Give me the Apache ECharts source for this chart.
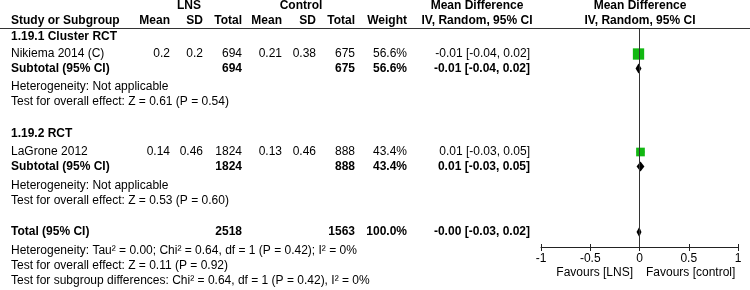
<!DOCTYPE html>
<html><head><meta charset="utf-8">
<script src="https://cdn.jsdelivr.net/npm/echarts@6/dist/echarts.min.js"></script>
<style>html,body{margin:0;padding:0;background:#fff}#c{width:750px;height:290px}</style>
</head><body><div id="c"></div>
<script>
// ---- data ----
const studies = ['Nikiema 2014 (C)', 'LaGrone 2012'];
const subgroups = ['1.19.1 Cluster RCT', '1.19.2 RCT'];
const lnsMean = [0.2, 0.14];
const lnsSD = [0.2, 0.46];
const lnsTotal = [694, 1824];
const ctlMean = [0.21, 0.13];
const ctlSD = [0.38, 0.46];
const ctlTotal = [675, 888];
const studyWeight = [56.6, 43.4];
const studyMD = [-0.01, 0.01];
const studyLo = [-0.04, -0.03];
const studyHi = [0.02, 0.05];
const subMD = [-0.01, 0.01];
const subLo = [-0.04, -0.03];
const subHi = [0.02, 0.05];
const subHeterogeneity = ['Heterogeneity: Not applicable', 'Heterogeneity: Not applicable'];
const subOverall = ['Test for overall effect: Z = 0.61 (P = 0.54)', 'Test for overall effect: Z = 0.53 (P = 0.60)'];
const totalLNS = 2518, totalCtl = 1563, totalWeight = 100.0;
const totalMD = -0.003, totalLo = -0.03, totalHi = 0.02;
const totalNotes = ['Heterogeneity: Tau\u00b2 = 0.00; Chi\u00b2 = 0.64, df = 1 (P = 0.42); I\u00b2 = 0%',
  'Test for overall effect: Z = 0.11 (P = 0.92)',
  'Test for subgroup differences: Chi\u00b2 = 0.64, df = 1 (P = 0.42), I\u00b2 = 0%'];
const xTicks = [-1, -0.5, 0, 0.5, 1];
const favours = ['Favours [LNS]', 'Favours [control]'];

// ---- layout ----
const ROW = { sg: [37, 134], study: [54, 152], sub: [68.5, 166.5], het: [87, 186], test: [102, 201], total: 232, notes: [251, 266, 281] };
const COL = { name: 11, lm: 170, lsd: 203, lt: 242, cm: 282, csd: 316, ct: 355, w: 407, md: 530 };
const FF = '"Liberation Sans", Arial, sans-serif';
const GREEN = '#12b812';

const g = [];
function t(x, y, text, align, bold) {
  g.push({ type: 'text', silent: true, style: { x: x, y: y, text: text, textAlign: align || 'left', textVerticalAlign: 'middle', fill: '#000', font: (bold ? 'bold ' : '') + '12px ' + FF } });
}
const ci = (m, l, h) => m.toFixed(2) + ' [' + l.toFixed(2) + ', ' + h.toFixed(2) + ']';

// headers
t(189, 6, 'LNS', 'center', true);
t(301, 6, 'Control', 'center', true);
t(477, 6, 'Mean Difference', 'center', true);
t(640, 6, 'Mean Difference', 'center', true);
t(COL.name, 21, 'Study or Subgroup', 'left', true);
t(COL.lm, 21, 'Mean', 'right', true);
t(COL.lsd, 21, 'SD', 'right', true);
t(COL.lt, 21, 'Total', 'right', true);
t(COL.cm, 21, 'Mean', 'right', true);
t(COL.csd, 21, 'SD', 'right', true);
t(COL.ct, 21, 'Total', 'right', true);
t(COL.w, 21, 'Weight', 'right', true);
t(477, 21, 'IV, Random, 95% CI', 'center', true);
t(640, 21, 'IV, Random, 95% CI', 'center', true);
g.push({ type: 'line', silent: true, shape: { x1: 0, y1: 28.5, x2: 750, y2: 28.5 }, style: { stroke: '#333', lineWidth: 1 } });

subgroups.forEach((sg, i) => {
  t(COL.name, ROW.sg[i], sg, 'left', true);
  const y = ROW.study[i];
  t(COL.name, y, studies[i]);
  t(COL.lm, y, String(lnsMean[i]), 'right');
  t(COL.lsd, y, String(lnsSD[i]), 'right');
  t(COL.lt, y, String(lnsTotal[i]), 'right');
  t(COL.cm, y, String(ctlMean[i]), 'right');
  t(COL.csd, y, String(ctlSD[i]), 'right');
  t(COL.ct, y, String(ctlTotal[i]), 'right');
  t(COL.w, y, studyWeight[i].toFixed(1) + '%', 'right');
  t(COL.md, y, ci(studyMD[i], studyLo[i], studyHi[i]), 'right');
  const ys = ROW.sub[i];
  t(COL.name, ys, 'Subtotal (95% CI)', 'left', true);
  t(COL.lt, ys, String(lnsTotal[i]), 'right', true);
  t(COL.ct, ys, String(ctlTotal[i]), 'right', true);
  t(COL.w, ys, studyWeight[i].toFixed(1) + '%', 'right', true);
  t(COL.md, ys, ci(subMD[i], subLo[i], subHi[i]), 'right', true);
  t(COL.name, ROW.het[i], subHeterogeneity[i]);
  t(COL.name, ROW.test[i], subOverall[i]);
});
t(COL.name, ROW.total, 'Total (95% CI)', 'left', true);
t(COL.lt, ROW.total, String(totalLNS), 'right', true);
t(COL.ct, ROW.total, String(totalCtl), 'right', true);
t(COL.w, ROW.total, totalWeight.toFixed(1) + '%', 'right', true);
t(COL.md, ROW.total, ci(totalMD, totalLo, totalHi), 'right', true);
totalNotes.forEach((n, i) => t(COL.name, ROW.notes[i], n));
t(633, 273, favours[0], 'right');
t(646, 273, favours[1], 'left');

const squareData = studies.map((s, i) => [studyMD[i], studyLo[i], studyHi[i], ROW.study[i], studyWeight[i]]);
const diamondData = subMD.map((m, i) => [m, subLo[i], subHi[i], ROW.sub[i]]).concat([[totalMD, totalLo, totalHi, ROW.total]]);

const chart = echarts.init(document.getElementById('c'), null, { renderer: 'canvas' });
chart.setOption({
  animation: false,
  graphic: g,
  grid: { left: 541, right: 12, top: 28, bottom: 43, containLabel: false },
  xAxis: [
    { type: 'value', min: -1, max: 1, interval: 0.5, position: 'bottom',
      axisLine: { lineStyle: { color: '#222', width: 1 } },
      axisTick: { length: 4, lineStyle: { color: '#222' } },
      axisLabel: { margin: 6, color: '#000', fontSize: 12, fontFamily: FF, formatter: v => String(v) },
      splitLine: { show: false } },
    { type: 'value', min: -1, max: 1, interval: 0.5, position: 'bottom', gridIndex: 0,
      axisLine: { show: false }, axisTick: { inside: true, length: 3, lineStyle: { color: '#222' } },
      axisLabel: { show: false }, splitLine: { show: false } }
  ],
  yAxis: { type: 'value', min: 28, max: 247, inverse: true, show: false },
  series: [
    { type: 'line', data: [], xAxisIndex: 0, silent: true, z: 1,
      markLine: { symbol: 'none', silent: true, label: { show: false },
        lineStyle: { color: '#333', type: 'solid', width: 1 }, data: [{ xAxis: 0 }] } },
    { type: 'custom', xAxisIndex: 0, z: 3, data: squareData, clip: false,
      renderItem: (params, api) => {
        const y = api.value(3);
        const c = api.coord([api.value(0), y]);
        const lo = api.coord([api.value(1), y]);
        const hi = api.coord([api.value(2), y]);
        const s = api.value(4) * 0.2;
        return { type: 'group', children: [
          { type: 'line', shape: { x1: lo[0], y1: c[1], x2: hi[0], y2: c[1] }, style: { stroke: '#000', lineWidth: 1 } },
          { type: 'rect', shape: { x: c[0] - s / 2, y: c[1] - s / 2, width: s, height: s }, style: { fill: GREEN } }
        ] };
      } },
    { type: 'custom', xAxisIndex: 0, z: 3, data: diamondData, clip: false,
      renderItem: (params, api) => {
        const y = api.value(3);
        const c = api.coord([api.value(0), y]);
        const lo = api.coord([api.value(1), y]);
        const hi = api.coord([api.value(2), y]);
        const h = 5;
        return { type: 'polygon', shape: { points: [[lo[0], c[1]], [c[0], c[1] - h], [hi[0], c[1]], [c[0], c[1] + h]] }, style: { fill: '#000' } };
      } }
  ]
});
</script></body></html>
